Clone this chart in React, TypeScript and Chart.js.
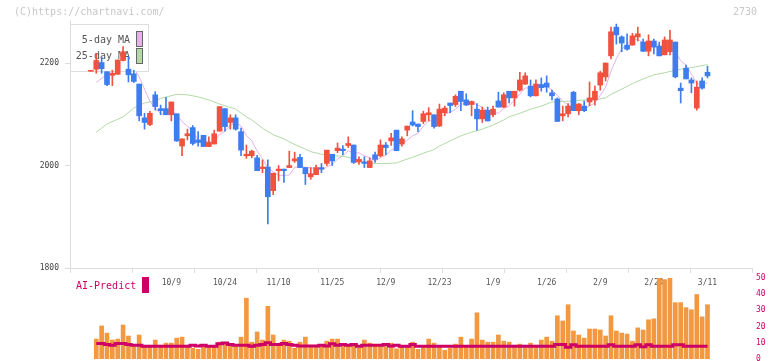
import React, { useEffect, useRef } from 'react';
import { Chart, registerables } from 'chart.js';

Chart.register(...registerables);

// ---------- data ----------
const dateLabels = ['10/9', '10/24', '11/10', '11/25', '12/9', '12/23', '1/9', '1/26', '2/9', '2/24', '3/11'];
const dateLabelIdx = [15, 25, 35, 45, 55, 65, 75, 85, 95, 105, 115];
const priceTicks = [1800, 2000, 2200];
const volumeTicks = [0, 10, 20, 30, 40, 50];

const opens = [
  2184, 2188, 2201, 2183, 2176, 2178, 2205, 2188, 2179, 2159,
  2093, 2080, 2138, 2111, 2111, 2099, 2101, 2038, 2058, 2074,
  2050, 2059, 2037, 2042, 2067, 2111, 2084, 2093, 2066, 2019,
  2019, 2015, 1994, 1997, 1951, 1990, 1993, 1996, 2009, 2016,
  1996, 1978, 1982, 1996, 2004, 2022, 2029, 2032, 2039, 2040,
  2007, 2007, 1996, 2021, 2019, 2040, 2048, 2069, 2042, 2069,
  2085, 2081, 2086, 2099, 2099, 2077, 2103, 2122, 2119, 2145,
  2128, 2119, 2110, 2091, 2108, 2099, 2126, 2114, 2145, 2132,
  2147, 2159, 2155, 2136, 2158, 2161, 2142, 2130, 2097, 2101,
  2143, 2107, 2116, 2124, 2128, 2157, 2173, 2214, 2270, 2251,
  2235, 2235, 2251, 2241, 2223, 2243, 2233, 2216, 2222, 2241,
  2151, 2190, 2167, 2112, 2165, 2182,
];
const highs = [
  2184, 2219, 2212, 2183, 2186, 2206, 2232, 2212, 2186, 2159,
  2102, 2106, 2144, 2118, 2133, 2124, 2101, 2052, 2071, 2078,
  2066, 2059, 2056, 2069, 2115, 2111, 2099, 2099, 2073, 2040,
  2030, 2020, 2011, 2011, 1985, 2000, 1993, 2028, 2026, 2022,
  1996, 1996, 2001, 2004, 2030, 2022, 2044, 2039, 2056, 2040,
  2017, 2017, 2015, 2026, 2050, 2045, 2063, 2069, 2056, 2077,
  2107, 2081, 2106, 2113, 2099, 2120, 2116, 2122, 2138, 2145,
  2140, 2126, 2121, 2114, 2114, 2116, 2143, 2142, 2145, 2145,
  2182, 2181, 2167, 2167, 2171, 2175, 2147, 2132, 2116, 2121,
  2145, 2121, 2126, 2163, 2155, 2184, 2200, 2270, 2276, 2253,
  2257, 2258, 2270, 2247, 2255, 2247, 2241, 2251, 2264, 2241,
  2161, 2196, 2171, 2165, 2171, 2194,
];
const lows = [
  2184, 2180, 2180, 2156, 2156, 2178, 2204, 2163, 2162, 2087,
  2071, 2078, 2108, 2099, 2099, 2087, 2047, 2019, 2050, 2040,
  2038, 2037, 2037, 2042, 2067, 2067, 2071, 2069, 2019, 2014,
  2015, 1990, 1986, 1886, 1943, 1970, 1967, 1996, 2006, 1996,
  1963, 1973, 1982, 1986, 2000, 2000, 2025, 2021, 2035, 2004,
  2002, 1996, 1996, 2006, 2017, 2021, 2039, 2029, 2038, 2058,
  2077, 2066, 2082, 2087, 2073, 2076, 2097, 2103, 2115, 2107,
  2117, 2097, 2069, 2084, 2087, 2095, 2114, 2113, 2122, 2116,
  2145, 2158, 2134, 2136, 2145, 2143, 2128, 2086, 2087, 2095,
  2107, 2099, 2105, 2117, 2118, 2147, 2165, 2208, 2237, 2222,
  2225, 2235, 2243, 2222, 2214, 2218, 2214, 2216, 2216, 2171,
  2122, 2169, 2142, 2108, 2149, 2171,
];
const closes = [
  2184, 2205, 2189, 2158, 2180, 2206, 2222, 2177, 2164, 2097,
  2084, 2102, 2115, 2107, 2099, 2124, 2048, 2052, 2062, 2043,
  2045, 2037, 2045, 2062, 2115, 2076, 2093, 2071, 2030, 2022,
  2028, 1990, 1997, 1939, 1985, 1993, 1990, 2000, 2013, 1996,
  1984, 1984, 1996, 1993, 2030, 2009, 2034, 2029, 2043, 2006,
  2012, 2004, 2009, 2012, 2040, 2035, 2054, 2029, 2052, 2077,
  2079, 2076, 2101, 2103, 2076, 2110, 2112, 2117, 2135, 2125,
  2118, 2125, 2091, 2108, 2087, 2110, 2114, 2138, 2132, 2145,
  2167, 2175, 2136, 2159, 2152, 2153, 2136, 2086, 2101, 2116,
  2107, 2120, 2107, 2132, 2145, 2181, 2200, 2261, 2255, 2239,
  2227, 2253, 2257, 2223, 2243, 2231, 2214, 2245, 2245, 2173,
  2146, 2169, 2161, 2153, 2151, 2175,
];

const ma5 = [
  null, 2162, 2170, 2178, 2185, 2187.6, 2191.0, 2188.6, 2189.8, 2173.2,
  2148.8, 2124.8, 2112.4, 2101.0, 2101.4, 2109.4, 2098.6, 2086.0, 2077.0, 2065.8,
  2050.0, 2047.8, 2046.4, 2046.4, 2060.8, 2067.0, 2078.2, 2083.4, 2077.0, 2058.4,
  2048.8, 2028.2, 2013.4, 1995.2, 1987.8, 1980.8, 1980.8, 1981.4, 1996.2, 1998.4,
  1996.6, 1995.4, 1994.6, 1990.6, 1997.4, 2002.4, 2012.4, 2019.0, 2029.0, 2024.2,
  2024.8, 2018.8, 2014.8, 2008.6, 2015.4, 2020.0, 2030.0, 2034.0, 2042.0, 2049.4,
  2058.2, 2062.6, 2077.0, 2087.2, 2087.0, 2093.2, 2100.4, 2103.6, 2110.0, 2119.8,
  2121.4, 2124.0, 2118.8, 2113.4, 2105.8, 2104.2, 2102.0, 2111.4, 2116.2, 2127.8,
  2139.2, 2151.4, 2151.0, 2156.4, 2157.8, 2155.0, 2147.2, 2137.2, 2125.6, 2118.4,
  2109.2, 2106.0, 2110.2, 2116.4, 2122.2, 2137.0, 2153.0, 2183.8, 2208.4, 2227.2,
  2236.4, 2247.0, 2246.2, 2239.8, 2240.6, 2241.4, 2233.6, 2231.2, 2235.6, 2221.6,
  2204.6, 2195.6, 2178.8, 2160.4, 2156.0, 2161.8,
];

const ma25Idx = [
  1, 3, 6, 8, 10, 12, 13, 16, 18, 20, 22, 24, 27, 29, 30, 32, 34, 36, 38, 40,
  41, 43, 45, 47, 49, 51, 53, 55, 57, 58, 60, 62, 64, 65, 67, 69, 71, 73, 75, 77,
  78, 80, 82, 84, 86, 88, 90, 92, 94, 96, 97, 99, 101, 103, 105, 107, 109, 110, 112, 115,
];
const ma25Val = [
  2065, 2081, 2095, 2112, 2122, 2126, 2131, 2139, 2138, 2134, 2128, 2120, 2110, 2095, 2089, 2073, 2060, 2052, 2041, 2032,
  2027, 2022, 2019, 2018, 2014, 2007, 2004, 2004, 2005, 2009, 2016, 2024, 2031, 2038, 2048, 2058, 2065, 2071, 2079, 2089,
  2095, 2102, 2110, 2116, 2124, 2125, 2126, 2128, 2128, 2132, 2139, 2149, 2160, 2169, 2177, 2181, 2186, 2188, 2191, 2197,
];

const volume = [
  0, 12.3, 20.4, 16.0, 11.7, 12.3, 21.0, 14.2, 8.5, 14.8,
  8.5, 8.5, 11.7, 8.5, 9.8, 9.8, 12.9, 13.5, 8.5, 6.7,
  6.0, 8.5, 8.1, 8.1, 10.4, 9.8, 8.5, 8.5, 13.5, 37.5,
  10.4, 16.7, 11.7, 32.5, 14.8, 8.5, 11.7, 11.0, 6.7, 10.4,
  13.5, 8.5, 8.5, 8.1, 11.0, 12.3, 12.3, 8.5, 8.5, 8.5,
  6.7, 11.7, 9.8, 8.5, 8.5, 7.7, 9.8, 6.3, 8.1, 8.1,
  10.4, 6.0, 8.1, 12.3, 9.8, 7.3, 5.4, 6.7, 9.2, 13.5,
  8.1, 12.3, 28.5, 11.7, 10.4, 10.4, 14.8, 11.0, 10.4, 8.5,
  9.2, 8.5, 9.8, 8.5, 11.7, 13.5, 11.0, 26.7, 23.5, 33.5,
  17.3, 14.8, 12.9, 18.5, 18.5, 17.9, 14.2, 26.7, 17.3, 16.0,
  15.4, 11.0, 19.2, 17.9, 24.2, 24.8, 58, 49, 58, 34.8,
  34.8, 31.7, 30.4, 39.8, 26.0, 33.5,
];

const aiPredict = [
  null, 9.6, 9.6, 9.0, 8.5, 9.6, 9.6, 9.0, 8.5, 8.5,
  7.9, 7.9, 7.9, 7.9, 7.9, 7.9, 7.9, 7.9, 7.9, 8.5,
  8.1, 8.5, 7.9, 7.9, 9.4, 9.8, 9.0, 8.5, 8.5, 8.5,
  7.9, 8.5, 9.0, 10.0, 9.0, 9.0, 9.6, 9.0, 8.5, 8.1,
  8.1, 8.1, 8.1, 8.5, 8.1, 9.4, 8.5, 9.0, 8.5, 9.0,
  7.9, 8.5, 8.5, 8.5, 8.5, 9.0, 8.1, 8.5, 7.9, 7.9,
  9.0, 7.9, 7.9, 7.9, 7.9, 7.9, 7.9, 7.9, 7.9, 7.9,
  7.9, 7.9, 7.9, 7.9, 7.9, 7.9, 7.9, 7.9, 7.9, 7.9,
  7.9, 7.9, 7.9, 7.9, 7.9, 7.9, 7.9, 9.0, 9.0, 7.3,
  8.8, 7.9, 7.9, 7.9, 7.9, 7.9, 7.9, 8.8, 7.9, 7.9,
  7.9, 7.9, 8.8, 7.5, 8.8, 7.9, 7.9, 7.9, 7.9, 8.8,
  8.8, 7.9, 7.9, 7.9, 7.9, 7.9,
];

// ---------- styling ----------
const X_MIN = -3.9;
const X_MAX = 123.3;
const Y_MIN = 1800;
const Y_MAX = 2284;
const UP = '#f0523f';
const DOWN = '#3e7def';
const MA5_COLOR = '#e6b1e8';
const MA25_COLOR = '#b3d9a7';
const VOL_COLOR = '#f19840';
const AI_COLOR = '#cc0066';
const AXIS = '#dddddd';
const MONO = '"DejaVu Sans Mono", monospace';

const candleColor = (i: number) => (closes[i] >= opens[i] ? UP : DOWN);

export default function App() {
  const mainRef = useRef<HTMLCanvasElement>(null);
  const volRef = useRef<HTMLCanvasElement>(null);

  useEffect(() => {
    const idx = closes.map((_, i) => i);
    const wickData = idx.map((i) => ({ x: i, y: [lows[i], highs[i]] }));
    const bodyData = idx.map((i) => ({ x: i, y: [opens[i], closes[i]] }));
    const ma5Data = idx.filter((i) => ma5[i] !== null).map((i) => ({ x: i, y: ma5[i] }));
    const ma25Data = ma25Idx.map((x, k) => ({ x, y: ma25Val[k] }));
    const volData = idx.filter((i) => volume[i] > 0).map((i) => ({ x: i, y: volume[i] }));
    const aiData = idx.filter((i) => aiPredict[i] !== null).map((i) => ({ x: i, y: aiPredict[i] }));

    const zeroPad = (s: any) => {
      s.paddingTop = 0;
      s.paddingBottom = 0;
      s.paddingLeft = 0;
      s.paddingRight = 0;
    };

    const mainOverlay = {
      id: 'mainOverlay',
      beforeDatasetDraw(chart: any, args: any) {
        if (args.index !== 2) return;
        const ctx = chart.ctx;
        ctx.save();
        ctx.fillStyle = '#ffffff';
        ctx.fillRect(70.5, 24.5, 78, 47);
        ctx.strokeStyle = AXIS;
        ctx.lineWidth = 1;
        ctx.strokeRect(70.5, 24.5, 78, 47);
        ctx.font = `10px ${MONO}`;
        ctx.fillStyle = '#555555';
        ctx.textAlign = 'right';
        ctx.textBaseline = 'middle';
        ctx.fillText('5-day MA', 130, 40.5);
        ctx.fillText('25-day MA', 130, 56.5);
        ctx.fillStyle = MA5_COLOR;
        ctx.fillRect(136.5, 31.5, 6, 15);
        ctx.strokeStyle = '#666666';
        ctx.strokeRect(136.5, 31.5, 6, 15);
        ctx.fillStyle = MA25_COLOR;
        ctx.fillRect(136.5, 48.5, 6, 15);
        ctx.strokeRect(136.5, 48.5, 6, 15);
        ctx.restore();
      },
      afterDraw(chart: any) {
        const ctx = chart.ctx;
        ctx.save();
        ctx.font = `10px ${MONO}`;
        ctx.fillStyle = '#c8c8c8';
        ctx.textBaseline = 'middle';
        ctx.textAlign = 'left';
        ctx.fillText('(C)https://chartnavi.com/', 14, 12.5);
        ctx.textAlign = 'right';
        ctx.fillText('2730', 757, 12.5);
        ctx.restore();
      },
    };

    const main = new Chart(mainRef.current as HTMLCanvasElement, {
      type: 'bar',
      data: {
        datasets: [
          {
            type: 'line',
            label: '5-day MA',
            data: ma5Data,
            borderColor: MA5_COLOR,
            borderWidth: 1,
            pointRadius: 0,
            tension: 0,
            order: 10,
          } as any,
          {
            type: 'line',
            label: '25-day MA',
            data: ma25Data,
            borderColor: MA25_COLOR,
            borderWidth: 1,
            pointRadius: 0,
            tension: 0,
            order: 9,
          } as any,
          {
            type: 'bar',
            label: 'wick',
            data: wickData,
            backgroundColor: (c: any) => candleColor(c.dataIndex),
            barThickness: 1,
            grouped: false,
            order: 2,
          } as any,
          {
            type: 'bar',
            label: 'body',
            data: bodyData,
            backgroundColor: (c: any) => candleColor(c.dataIndex),
            barThickness: 5,
            minBarLength: 1,
            grouped: false,
            order: 1,
          } as any,
        ],
      },
      options: {
        responsive: false,
        animation: false,
        events: [],
        layout: { padding: { left: 0, right: 20, top: 20, bottom: 0 } },
        plugins: { legend: { display: false }, tooltip: { enabled: false } },
        scales: {
          x: {
            type: 'linear',
            position: 'bottom',
            weight: 1,
            min: X_MIN,
            max: X_MAX,
            offset: false,
            grid: { display: false, drawTicks: false, offset: false },
            border: { display: false },
            afterBuildTicks: (s: any) => {
              s.ticks = dateLabelIdx.map((v) => ({ value: v }));
            },
            ticks: {
              autoSkip: false,
              maxRotation: 0,
              padding: 5,
              color: '#555555',
              font: { family: MONO, size: 8 },
              callback: (v: any) => {
                const k = dateLabelIdx.indexOf(Number(v));
                return k >= 0 ? dateLabels[k] : '';
              },
            },
            afterFit: (s: any) => {
              s.height = 88;
              zeroPad(s);
            },
          },
          xg: {
            type: 'linear',
            position: 'bottom',
            weight: 0,
            min: 0,
            max: 11,
            offset: false,
            grid: { drawOnChartArea: false, color: AXIS, tickLength: 5, offset: false },
            border: { color: AXIS },
            ticks: { display: false, stepSize: 1 },
            afterFit: (s: any) => {
              s.height = 5;
              zeroPad(s);
            },
          },
          y: {
            type: 'linear',
            position: 'left',
            min: Y_MIN,
            max: Y_MAX,
            afterBuildTicks: (s: any) => {
              s.ticks = priceTicks.map((v) => ({ value: v }));
            },
            grid: { drawOnChartArea: false, color: AXIS, tickLength: 5 },
            border: { color: AXIS },
            ticks: {
              padding: 6,
              color: '#444444',
              font: { family: MONO, size: 8 },
              callback: (v: any) => String(v),
            },
            afterFit: (s: any) => {
              s.width = 70;
              zeroPad(s);
            },
          },
        },
      } as any,
      plugins: [mainOverlay],
    });

    const volOverlay = {
      id: 'volOverlay',
      afterDraw(chart: any) {
        const ctx = chart.ctx;
        ctx.save();
        ctx.font = `10px ${MONO}`;
        ctx.fillStyle = AI_COLOR;
        ctx.textAlign = 'left';
        ctx.textBaseline = 'middle';
        ctx.fillText('AI-Predict', 76, 18.5);
        ctx.fillRect(142, 9, 7, 16);
        ctx.restore();
      },
    };

    const vol = new Chart(volRef.current as HTMLCanvasElement, {
      type: 'bar',
      data: {
        datasets: [
          {
            type: 'line',
            label: 'AI-Predict',
            data: aiData,
            borderColor: AI_COLOR,
            borderWidth: 3,
            pointRadius: 0,
            stepped: 'middle',
            order: 0,
          } as any,
          {
            type: 'bar',
            label: 'volume',
            data: volData,
            backgroundColor: VOL_COLOR,
            barThickness: 4,
            clip: 0,
            order: 1,
          } as any,
        ],
      },
      options: {
        responsive: false,
        animation: false,
        events: [],
        layout: { padding: { left: 70, right: 0, top: 10, bottom: 2 } },
        plugins: { legend: { display: false }, tooltip: { enabled: false } },
        scales: {
          x: { type: 'linear', min: X_MIN, max: X_MAX, offset: false, display: false },
          y: {
            type: 'linear',
            position: 'right',
            min: 0,
            max: 50,
            afterBuildTicks: (s: any) => {
              s.ticks = volumeTicks.map((v) => ({ value: v }));
            },
            grid: { display: false, drawTicks: false },
            border: { display: false },
            ticks: { padding: 4, color: AI_COLOR, font: { family: MONO, size: 8 } },
            afterFit: (s: any) => {
              s.width = 20;
              zeroPad(s);
            },
          },
        },
      } as any,
      plugins: [volOverlay],
    });

    return () => {
      main.destroy();
      vol.destroy();
    };
  }, []);

  return (
    <div style={{ position: 'absolute', left: 0, top: 0, width: 772, height: 361, background: '#ffffff' }}>
      <canvas ref={mainRef} width={772} height={361} style={{ position: 'absolute', left: 0, top: 0 }} />
      <canvas ref={volRef} width={772} height={93} style={{ position: 'absolute', left: 0, top: 268 }} />
    </div>
  );
}
